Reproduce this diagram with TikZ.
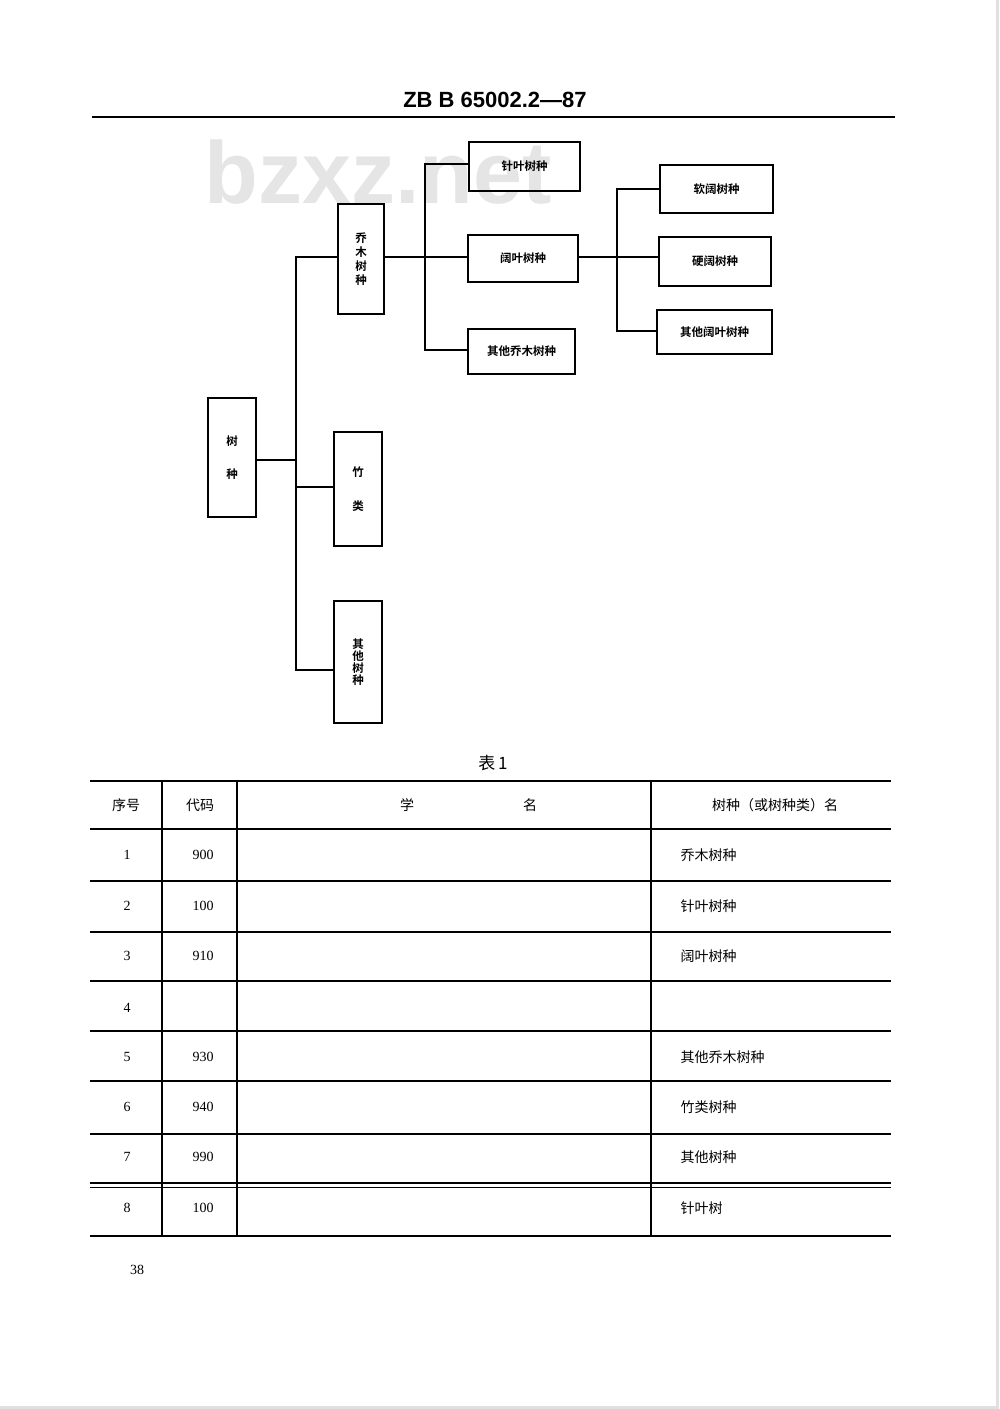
\documentclass[tikz,border=0pt]{standalone}
\usepackage{fontspec}
\setmainfont{Liberation Serif}
\newfontfamily\cjk{Noto Sans CJK SC}
\newfontfamily\cjkb{Noto Sans CJK SC Bold}
\newfontfamily\hdr{Liberation Sans}
\begin{document}
\begin{tikzpicture}[x=1pt,y=-1pt,
  bx/.style={draw,line width=1.8pt,inner sep=0pt},
  lnk/.style={line width=1.3pt},
  boxtxt/.style={font=\cjkb\fontsize{11.5}{12.5}\selectfont},
  rule/.style={line width=1.4pt},
  tcell/.style={font=\cjk\fontsize{14}{16}\selectfont,anchor=center},
  tnum/.style={font=\fontsize{14}{16}\selectfont,anchor=center}]
\useasboundingbox (0,0) rectangle (1000,1409);
\fill[white] (0,0) rectangle (1000,1409);
\draw[black!12,line width=3pt] (997,0) -- (997,1407) -- (0,1407);
% header
\node[font=\hdr\bfseries\fontsize{22}{24}\selectfont] (hd) at (495,100) {ZB B 65002.2—87};
\draw[line width=2.5pt] (92,117) -- (895,117);
% watermark
\node[font=\hdr\bfseries\fontsize{88}{90}\selectfont,text=black!10] (wm) at (378,172) {bzxz.net};
% tree boxes
\node[bx,minimum width=48pt,minimum height=119pt,boxtxt] (root) at (232,457.5) {\shortstack{树\\[20pt]种}};
\node[bx,minimum width=46pt,minimum height=110pt,boxtxt] (qm) at (361,259) {\shortstack{乔\\木\\树\\种}};
\node[bx,minimum width=48pt,minimum height=114pt,boxtxt] (zl) at (358,489) {\shortstack{竹\\[20pt]类}};
\node[bx,minimum width=48pt,minimum height=122pt,boxtxt] (qt) at (358,662) {\shortstack{其\\[-2pt]他\\[-2pt]树\\[-2pt]种}};
\node[bx,minimum width=111pt,minimum height=49pt,boxtxt] (zy) at (524.5,166.5) {针叶树种};
\node[bx,minimum width=110pt,minimum height=47pt,boxtxt] (ky) at (523,258.5) {阔叶树种};
\node[bx,minimum width=107pt,minimum height=45pt,boxtxt] (qq) at (521.5,351.5) {其他乔木树种};
\node[bx,minimum width=113pt,minimum height=48pt,boxtxt] (rk) at (716.5,189) {软阔树种};
\node[bx,minimum width=112pt,minimum height=49pt,boxtxt] (yk) at (715,261.5) {硬阔树种};
\node[bx,minimum width=115pt,minimum height=44pt,boxtxt] (qk) at (714.5,332) {其他阔叶树种};
% junction coordinates
\coordinate (j1) at (296,460);
\coordinate (j2) at (425,257);
\coordinate (j3) at (617,257);
% connectors
\draw[lnk] (root.east |- j1) -- (j1);
\draw[lnk] (qm.west |- 0,257) -| (296,257) -- (296,670) -- (qt.west |- 0,670);
\draw[lnk] (296,487) -- (zl.west |- 0,487);
\draw[lnk] (qm.east |- j2) -- (ky.west |- j2);
\draw[lnk] (zy.west |- 0,164) -| (425,350) -- (qq.west |- 0,350);
\draw[lnk] (ky.east |- j3) -- (yk.west |- j3);
\draw[lnk] (rk.west |- 0,189) -| (617,331) -- (qk.west |- 0,331);
% table title
\node[font=\cjk\fontsize{17}{19}\selectfont] (tt) at (493,763) {表\,1};
% table rules
\draw[line width=2.4pt] (90,781) -- (891,781);
\foreach \yy in {829,881,932,981,1031,1081,1134}{\draw[rule] (90,\yy) -- (891,\yy);}
\draw[rule] (90,1183) -- (891,1183);
\draw[rule] (90,1187.5) -- (891,1187.5);
\draw[line width=1.8pt] (90,1236) -- (891,1236);
\foreach \xx in {162,237,651}{\draw[line width=1.3pt] (\xx,781) -- (\xx,1236);}
% header row
\node[tcell] (h1) at (126,805) {序号};
\node[tcell] (h2) at (200,805) {代码};
\node[tcell] (h3) at (407,805) {学};
\node[tcell] (h4) at (530,805) {名};
\node[tcell] (h5) at (775,805) {树种（或树种类）名};
% rows
\foreach \n/\yy/\cd/\nm in {1/855/900/乔木树种,2/906/100/针叶树种,3/956/910/阔叶树种,4/1008//,5/1057/930/其他乔木树种,6/1107/940/竹类树种,7/1157/990/其他树种,8/1208/100/针叶树}{
  \node[tnum] (n\n) at (127,\yy) {\n};
  \node[tnum] (c\n) at (203,\yy) {\cd};
  \node[tcell,anchor=west] (m\n) at (677,\yy) {\nm};
}
% page number
\node[tnum] (pg) at (137,1270) {38};
\end{tikzpicture}
\end{document}
